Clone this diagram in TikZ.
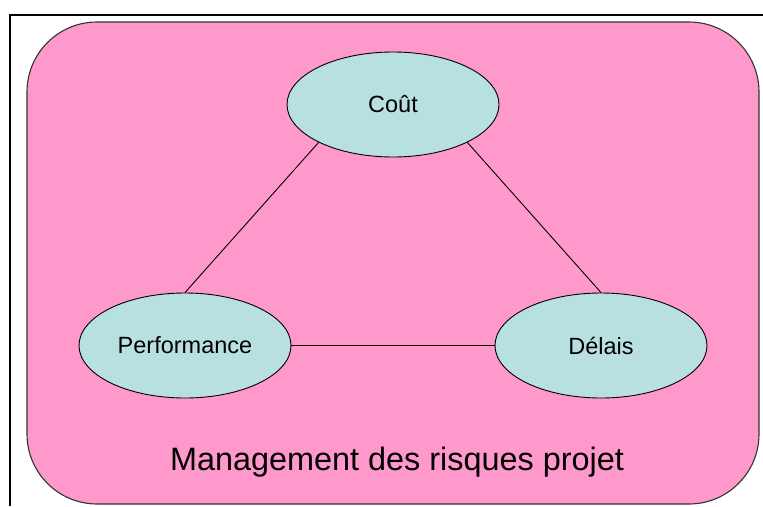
\documentclass[tikz,border=0pt]{standalone}
\usepackage{fontspec}
\setmainfont{Liberation Sans}
\usetikzlibrary{shapes.geometric}
\definecolor{pinkbg}{RGB}{255,153,204}
\definecolor{cyanfill}{RGB}{185,224,224}
\begin{document}
\begin{tikzpicture}[x=1pt,y=-1pt,
  oval/.style={ellipse,draw=black,line width=0.9pt,fill=cyanfill,minimum width=212pt,minimum height=105pt,inner sep=0pt,font=\fontsize{23.5}{28}\selectfont},
  link/.style={draw=black,line width=0.9pt}]
\useasboundingbox (0,0) rectangle (763,506);
\fill[white] (0,0) rectangle (763,506);
\draw[line width=2pt] (10,506) -- (10,15) -- (763,15);
\draw[fill=pinkbg,draw=black!80,line width=1.1pt,rounded corners=70pt] (27,22) rectangle (759,504);
\node[oval] (cout) at (393,104.5) {Coût};
\node[oval] (perf) at (185,345.5) {Performance};
\node[oval] (del) at (601,345.5) {Délais};
\draw[link] (perf.north) -- (cout.207);
\draw[link] (del.north) -- (cout.333);
\draw[link] (perf.east) -- (del.west);
\node[font=\fontsize{32.4}{38}\selectfont] (title) at (397,462) {Management des risques projet};
\end{tikzpicture}
\end{document}
